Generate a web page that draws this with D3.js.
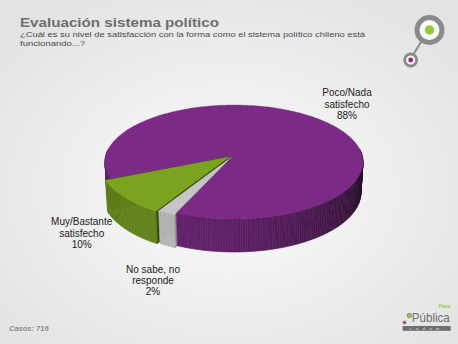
<!DOCTYPE html>
<html><head><meta charset="utf-8">
<script src="https://cdn.jsdelivr.net/npm/d3@7"></script>
<style>
html,body{margin:0;padding:0;background:#eaeaea;}
svg{display:block;}
</style></head>
<body>
<div id="chart"></div>
<script>
// ---------- data ----------
const categories = ["No sabe, no responde", "Muy/Bastante satisfecho", "Poco/Nada satisfecho"];
const values = [2, 10, 88];
const labelLines = [["No sabe, no", "responde", "2%"], ["Muy/Bastante", "satisfecho", "10%"], ["Poco/Nada", "satisfecho", "88%"]];
const titleText = "Evaluación sistema político";
const subtitleLines = ["¿Cuál es su nivel de satisfacción con la forma como el sistema político chileno está", "funcionando...?"];
const casesText = "Casos: 716";

// ---------- layout / style ----------
const W = 458, H = 344;
const topColors = ["#c5c5c5", "#7aa31f", "#7b2a85"];
const sideMin = [0.74, 0.5, 0.47];
const sideGain = [0.18, 0.3, 0.35];
const explode = [0.03, 0.045, 0];
const labelPos = [[153, 272.6], [81.7, 225.3], [347, 96.3]];
const lineH = 11.2;
const startDeg = 113.5 + 90; // d3 pie angle (clockwise from 12 o'clock)

// 3D projection parameters
const cx = 234, cy = 155, f = 937, Dcam = 7.32, elev = Math.asin(0.4386), hgt = 0.265;
const ce = Math.cos(elev), se = Math.sin(elev);
const cam = [0, Dcam * ce, Dcam * se];
function proj(X, Y, Z) {
  const depth = Dcam - Y * ce - Z * se;
  const w = -Y * se + Z * ce;
  return [cx + f * X / depth, cy - f * w / depth];
}
function dist(X, Y, Z) {
  return Math.hypot(X - cam[0], Y - cam[1], Z - cam[2]);
}
const L = [-0.6, 0.8];

const svg = d3.select("#chart").append("svg").attr("width", W).attr("height", H);
const defs = svg.append("defs");
const bg = defs.append("radialGradient").attr("id", "bg").attr("cx", "50%").attr("cy", "55%").attr("r", "65%");
bg.append("stop").attr("offset", "0%").attr("stop-color", "#fbfbfb");
bg.append("stop").attr("offset", "100%").attr("stop-color", "#e3e3e3");
svg.append("rect").attr("width", W).attr("height", H).attr("fill", "url(#bg)");

// ---------- pie ----------
const pie = d3.pie().sort(null).value(d => d)
  .startAngle(startDeg * Math.PI / 180).endAngle(startDeg * Math.PI / 180 + 2 * Math.PI);
const arcs = pie(values);
const line = d3.line();
const step = Math.PI / 180;

const faces = [];
const tops = [];
arcs.forEach((a, i) => {
  const p0 = a.startAngle - Math.PI / 2, p1 = a.endAngle - Math.PI / 2;
  const pm = (p0 + p1) / 2;
  const ox = explode[i] * Math.cos(pm), oy = explode[i] * Math.sin(pm);
  const n = Math.max(2, Math.ceil((p1 - p0) / step));
  const angs = d3.range(n + 1).map(k => p0 + (p1 - p0) * k / n);
  const col = d3.color(topColors[i]);
  const shade = (nx, ny) => {
    const t = Math.max(0.27, sideMin[i] + sideGain[i] * (nx * L[0] + ny * L[1]));
    return d3.rgb(col.r * t, col.g * t, col.b * t).formatHex();
  };
  // top face
  const topPts = [proj(ox, oy, 0)].concat(angs.map(p => proj(ox + Math.cos(p), oy + Math.sin(p), 0)));
  tops.push({ d: line(topPts) + "Z", fill: topColors[i] });
  // outer side segments
  for (let k = 0; k < n; k++) {
    const q0 = angs[k], q1 = angs[k + 1], qm = (q0 + q1) / 2;
    if (Math.sin(qm) < -0.12) continue;
    const pts = [
      proj(ox + Math.cos(q0), oy + Math.sin(q0), 0),
      proj(ox + Math.cos(q1), oy + Math.sin(q1), 0),
      proj(ox + Math.cos(q1), oy + Math.sin(q1), -hgt),
      proj(ox + Math.cos(q0), oy + Math.sin(q0), -hgt)
    ];
    faces.push({ d: line(pts) + "Z", fill: shade(Math.cos(qm), Math.sin(qm)),
      key: dist(ox + Math.cos(qm), oy + Math.sin(qm), -hgt / 2) });
  }
  // radial faces
  [[p0, Math.sin(p0), -Math.cos(p0)], [p1, -Math.sin(p1), Math.cos(p1)]].forEach(([p, nx, ny]) => {
    const mx = ox + 0.5 * Math.cos(p), my = oy + 0.5 * Math.sin(p);
    const vis = nx * (cam[0] - mx) + ny * (cam[1] - my);
    if (vis <= 0) return;
    const pts = [
      proj(ox, oy, 0),
      proj(ox + Math.cos(p), oy + Math.sin(p), 0),
      proj(ox + Math.cos(p), oy + Math.sin(p), -hgt),
      proj(ox, oy, -hgt)
    ];
    faces.push({ d: line(pts) + "Z", fill: shade(nx, ny), key: dist(mx, my, -hgt / 2) });
  });
});
faces.sort((a, b) => b.key - a.key);
const gPie = svg.append("g");
gPie.selectAll("path.side").data(faces).join("path").attr("class", "side")
  .attr("d", d => d.d).attr("fill", d => d.fill).attr("stroke", d => d.fill).attr("stroke-width", 0.6);
gPie.selectAll("path.top").data(tops).join("path").attr("class", "top")
  .attr("d", d => d.d).attr("fill", d => d.fill).attr("stroke", d => d.fill).attr("stroke-width", 0.3);

// ---------- labels ----------
const gLab = svg.append("g").attr("font-family", "'Liberation Sans', Arial, sans-serif")
  .attr("font-size", 10).attr("fill", "#222").attr("text-anchor", "middle");
labelLines.forEach((lines, i) => {
  const t = gLab.append("text").attr("x", labelPos[i][0]).attr("y", labelPos[i][1]);
  lines.forEach((s, j) => t.append("tspan").attr("x", labelPos[i][0]).attr("dy", j ? lineH : 0).text(s));
});

// ---------- titles ----------
svg.append("text").attr("x", 20).attr("y", 27)
  .attr("font-family", "'Liberation Sans', Arial, sans-serif").attr("font-weight", "bold")
  .attr("font-size", 13.5).attr("textLength", 199).attr("lengthAdjust", "spacingAndGlyphs")
  .attr("fill", "#6e6e6e").text(titleText);
const sub = svg.append("g").attr("font-family", "'Liberation Sans', Arial, sans-serif")
  .attr("font-size", 8).attr("fill", "#4a4a4a");
subtitleLines.forEach((s, j) => {
  const t = sub.append("text").attr("x", 20).attr("y", 37 + j * 8.6).text(s);
  if (j === 0) t.attr("textLength", 345).attr("lengthAdjust", "spacingAndGlyphs");
  else t.attr("textLength", 65).attr("lengthAdjust", "spacingAndGlyphs");
});

svg.append("text").attr("x", 9).attr("y", 331)
  .attr("font-family", "'Liberation Sans', Arial, sans-serif").attr("font-weight", "bold")
  .attr("font-style", "italic").attr("font-size", 7.5).attr("fill", "#8a8a8a").text(casesText);

// ---------- top-right logo ----------
const lg = svg.append("g");
lg.append("line").attr("x1", 413).attr("y1", 55).attr("x2", 421).attr("y2", 42)
  .attr("stroke", "#8a8a8a").attr("stroke-width", 2);
lg.append("circle").attr("cx", 429.5).attr("cy", 30).attr("r", 12.5)
  .attr("fill", "#fafafa").attr("stroke", "#8a8a8a").attr("stroke-width", 5);
lg.append("circle").attr("cx", 429.5).attr("cy", 30).attr("r", 4.7).attr("fill", "#95c93d");
lg.append("circle").attr("cx", 410.7).attr("cy", 60).attr("r", 6)
  .attr("fill", "#fafafa").attr("stroke", "#8a8a8a").attr("stroke-width", 2.8);
lg.append("circle").attr("cx", 410.7).attr("cy", 60).attr("r", 2.4).attr("fill", "#8e2a8c");

// ---------- bottom-right logo ----------
const bl = svg.append("g");
bl.append("circle").attr("cx", 409.3).attr("cy", 315.5).attr("r", 2.2)
  .attr("fill", "#9bc93f").attr("stroke", "#8a8a8a").attr("stroke-width", 1);
bl.append("circle").attr("cx", 404.5).attr("cy", 322.5).attr("r", 1.8)
  .attr("fill", "#a0378f").attr("stroke", "#b8b8b8").attr("stroke-width", 0.8);
bl.append("text").attr("x", 411.8).attr("y", 322)
  .attr("font-family", "'Liberation Sans Narrow', 'Liberation Sans', sans-serif")
  .attr("font-size", 13).attr("fill", "#6e6e6e").attr("textLength", 38).attr("lengthAdjust", "spacingAndGlyphs")
  .text("Pública");
bl.append("text").attr("x", 444.5).attr("y", 308.3).attr("text-anchor", "middle")
  .attr("font-family", "'Liberation Sans', sans-serif").attr("font-size", 4.5).attr("font-weight", "bold")
  .attr("fill", "#9bc93f").text("Plaza");
bl.append("rect").attr("x", 402.7).attr("y", 326).attr("width", 48).attr("height", 4.8).attr("fill", "#6e6e6e");
bl.append("text").attr("x", 426.7).attr("y", 329.8).attr("text-anchor", "middle")
  .attr("font-family", "'Liberation Sans', sans-serif").attr("font-size", 4)
  .attr("letter-spacing", 4.5).attr("fill", "#e0e0e0").text("cadem");
</script>
</body></html>
